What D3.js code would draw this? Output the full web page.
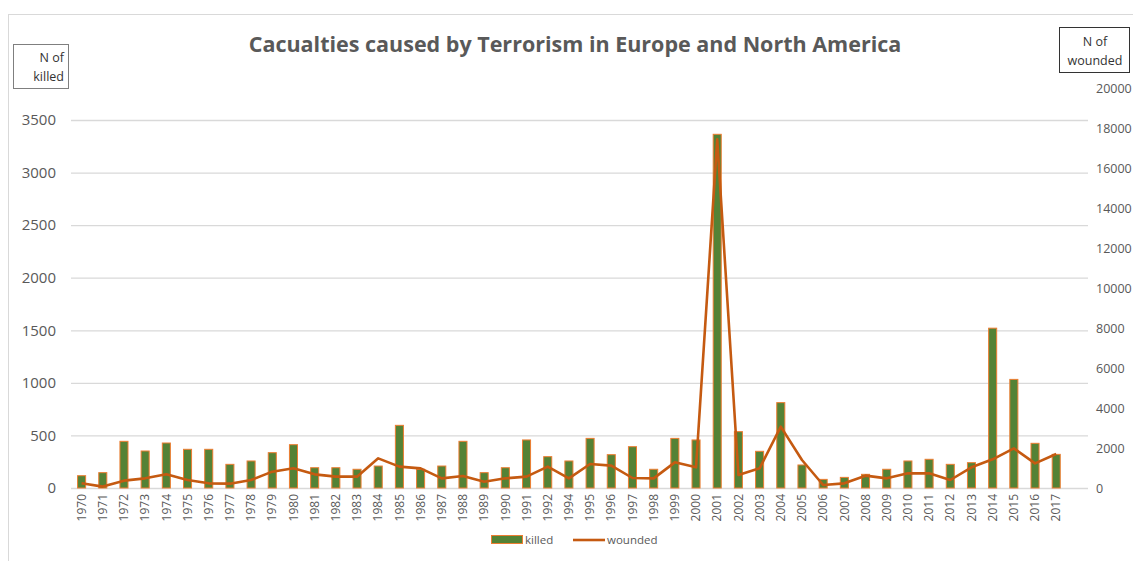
<!DOCTYPE html>
<html>
<head>
<meta charset="utf-8">
<script src="https://cdn.jsdelivr.net/npm/d3@7.9.0/dist/d3.min.js"></script>
<style>
  body { margin: 0; background: #fff; }
  svg { display: block; font-family: "Open Sans", "Liberation Sans", sans-serif; }
</style>
</head>
<body>
<div id="plot-container"></div>
<script>
// years (1993 is not in the source table)
const years = [1970, 1971, 1972, 1973, 1974, 1975, 1976, 1977, 1978, 1979, 1980, 1981, 1982, 1983,
  1984, 1985, 1986, 1987, 1988, 1989, 1990, 1991, 1992, 1994, 1995, 1996, 1997, 1998, 1999, 2000,
  2001, 2002, 2003, 2004, 2005, 2006, 2007, 2008, 2009, 2010, 2011, 2012, 2013, 2014, 2015, 2016, 2017];

const killed = [117, 146, 444, 352, 428, 368, 368, 225, 257, 336, 412, 193, 193, 178,
  209, 596, 178, 209, 444, 146, 193, 457, 298, 257, 472, 317, 393, 178, 472, 457,
  3364, 536, 349, 812, 219, 82, 101, 130, 178, 257, 273, 225, 241, 1520, 1033, 425, 320];

const wounded = [233, 70, 367, 483, 683, 400, 233, 217, 400, 817, 983, 683, 567, 567,
  1483, 1067, 983, 483, 600, 317, 483, 567, 1067, 483, 1200, 1117, 500, 483, 1283, 1033,
  17430, 650, 983, 3067, 1400, 150, 233, 617, 483, 733, 733, 400, 1033, 1433, 1983, 1233, 1700];

const leftTicks = [0, 500, 1000, 1500, 2000, 2500, 3000, 3500];
const rightTicks = [0, 2000, 4000, 6000, 8000, 10000, 12000, 14000, 16000, 18000, 20000];

function renderPlot() {
    const width = 1133;
    const height = 561;
    const grey = '#595959';

    const svg = d3.select('#plot-container')
        .append('svg')
        .attr('width', width)
        .attr('height', height);

    // chart frame
    svg.append('rect')
        .attr('x', 8.5).attr('y', 14.5)
        .attr('width', 1140).attr('height', 560)
        .attr('fill', 'none')
        .attr('stroke', '#d9d9d9');

    const plot = { left: 71, right: 1088, bottom: 488 };
    const bandWidth = (plot.right - plot.left) / 48;

    const xScale = d3.scaleBand()
        .domain(years)
        .range([plot.left, plot.left + bandWidth * years.length])
        .paddingInner(0.62)
        .paddingOuter(0.31);

    const yLeft = d3.scaleLinear().domain([0, 3500]).range([plot.bottom, 120]);
    const yRight = d3.scaleLinear().domain([0, 20000]).range([plot.bottom, 88]);

    // gridlines
    svg.append('g')
        .attr('transform', `translate(${plot.left}, 0)`)
        .call(d3.axisLeft(yLeft).tickValues(leftTicks).tickFormat('').tickSize(-(plot.right - plot.left)))
        .call(g => g.select('.domain').remove())
        .call(g => g.selectAll('line').attr('stroke', '#d9d9d9').attr('stroke-width', 1.3));

    // left axis labels
    svg.append('g')
        .attr('transform', `translate(56, 0)`)
        .call(d3.axisLeft(yLeft).tickValues(leftTicks).tickFormat(d3.format('d')).tickSize(0).tickPadding(0))
        .call(g => g.select('.domain').remove())
        .call(g => g.selectAll('text')
            .attr('fill', grey)
            .attr('font-size', 15)
            .attr('font-family', '"Open Sans", sans-serif'));

    // right axis labels
    svg.append('g')
        .attr('transform', `translate(1096, 0)`)
        .call(d3.axisRight(yRight).tickValues(rightTicks).tickFormat(d3.format('d')).tickSize(0).tickPadding(0))
        .call(g => g.select('.domain').remove())
        .call(g => g.selectAll('text')
            .attr('fill', grey)
            .attr('font-size', 12.5)
            .attr('font-family', '"Open Sans", sans-serif'));

    // x axis labels
    svg.append('g')
        .attr('transform', `translate(0, ${plot.bottom})`)
        .call(d3.axisBottom(xScale).tickSize(0).tickPadding(0))
        .call(g => g.select('.domain').remove())
        .call(g => g.selectAll('text')
            .attr('fill', grey)
            .attr('font-size', 12)
            .attr('font-family', '"Open Sans", sans-serif')
            .attr('transform', 'rotate(-90)')
            .attr('text-anchor', 'end')
            .attr('x', -6)
            .attr('y', 0)
            .attr('dy', '0.35em'));

    // bars
    svg.append('g')
        .selectAll('rect')
        .data(years)
        .enter()
        .append('rect')
        .attr('x', d => xScale(d))
        .attr('width', xScale.bandwidth())
        .attr('y', (d, i) => yLeft(killed[i]))
        .attr('height', (d, i) => yLeft(0) - yLeft(killed[i]))
        .attr('fill', '#548235')
        .attr('stroke', '#ED7D31')
        .attr('stroke-width', 1);

    // wounded line
    const line = d3.line()
        .x(d => xScale(d.year) + xScale.bandwidth() / 2)
        .y(d => yRight(d.value));

    svg.append('path')
        .datum(years.map((y, i) => ({ year: y, value: wounded[i] })))
        .attr('fill', 'none')
        .attr('stroke', '#C55A11')
        .attr('stroke-width', 2.6)
        .attr('stroke-linejoin', 'round')
        .attr('d', line);

    // title
    svg.append('text')
        .attr('x', 575)
        .attr('y', 52)
        .attr('text-anchor', 'middle')
        .attr('font-size', 21.5)
        .attr('font-weight', 'bold')
        .attr('fill', grey)
        .text('Cacualties caused by Terrorism in Europe and North America');

    // axis title boxes
    svg.append('rect')
        .attr('x', 13.5).attr('y', 44.5).attr('width', 55).attr('height', 44)
        .attr('fill', 'none').attr('stroke', '#7f7f7f');
    svg.append('text')
        .attr('text-anchor', 'end').attr('font-size', 12.5).attr('fill', '#333')
        .selectAll('tspan')
        .data(['N of', 'killed'])
        .enter()
        .append('tspan')
        .attr('x', 64)
        .attr('y', (d, i) => 62 + i * 19)
        .text(d => d);

    svg.append('rect')
        .attr('x', 1059.5).attr('y', 27.5).attr('width', 70).attr('height', 45)
        .attr('fill', 'none').attr('stroke', '#333');
    svg.append('text')
        .attr('text-anchor', 'middle').attr('font-size', 12.5).attr('fill', '#333')
        .selectAll('tspan')
        .data(['N of', 'wounded'])
        .enter()
        .append('tspan')
        .attr('x', 1095)
        .attr('y', (d, i) => 46 + i * 19)
        .text(d => d);

    // legend
    const legend = svg.append('g').attr('font-size', 11.5).attr('fill', grey);
    legend.append('rect')
        .attr('x', 491.5).attr('y', 535.5).attr('width', 31).attr('height', 8)
        .attr('fill', '#548235').attr('stroke', '#ED7D31');
    legend.append('text').attr('x', 525).attr('y', 544).text('killed');
    legend.append('line')
        .attr('x1', 573).attr('x2', 605).attr('y1', 540).attr('y2', 540)
        .attr('stroke', '#C55A11').attr('stroke-width', 2.6);
    legend.append('text').attr('x', 607).attr('y', 544).text('wounded');
}

renderPlot();
</script>
</body>
</html>
